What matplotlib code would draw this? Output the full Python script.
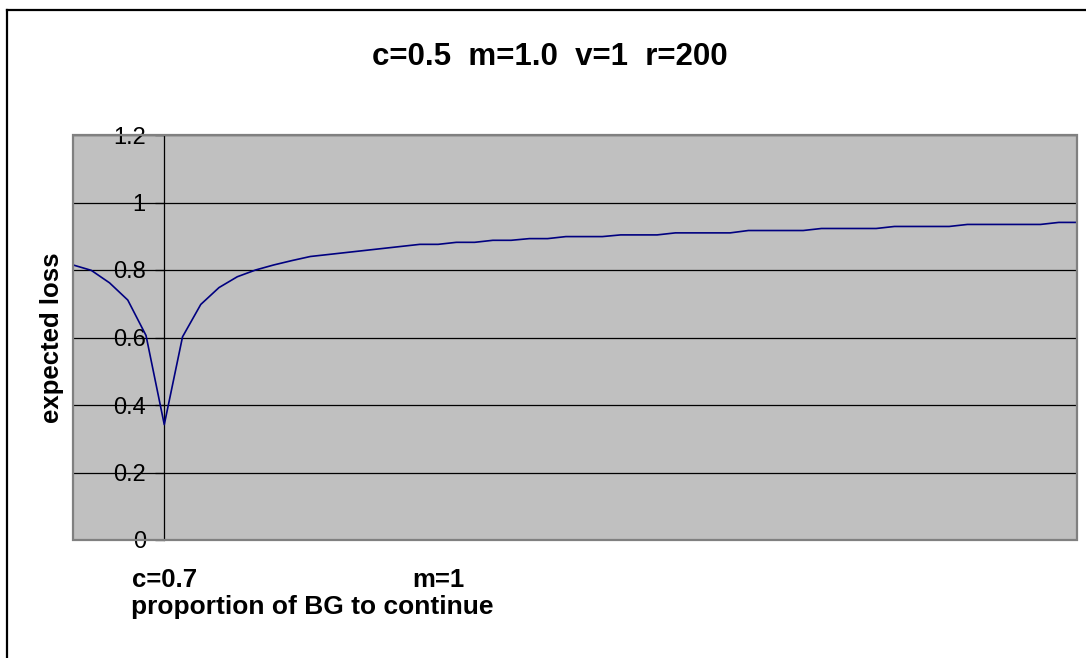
import matplotlib
matplotlib.use("Agg")
import matplotlib.pyplot as plt
from matplotlib.lines import Line2D
from matplotlib.patches import Rectangle
from matplotlib.transforms import blended_transform_factory

plt.rcParams['font.family'] = ['Liberation Sans', 'DejaVu Sans']

# expected loss for each category (56 points)
loss = [0.815, 0.799, 0.762, 0.711, 0.606, 0.342, 0.602, 0.698, 0.748, 0.780,
        0.800, 0.815, 0.828, 0.840, 0.846, 0.852, 0.858, 0.864, 0.870, 0.876,
        0.876, 0.882, 0.882, 0.888, 0.888, 0.893, 0.893, 0.899, 0.899, 0.899,
        0.904, 0.904, 0.904, 0.910, 0.910, 0.910, 0.910, 0.917, 0.917, 0.917,
        0.917, 0.923, 0.923, 0.923, 0.923, 0.929, 0.929, 0.929, 0.929, 0.935,
        0.935, 0.935, 0.935, 0.935, 0.941, 0.941]
categories = list(range(len(loss)))
yticks = [0, 0.2, 0.4, 0.6, 0.8, 1.0, 1.2]
ytick_labels = ['0', '0.2', '0.4', '0.6', '0.8', '1', '1.2']
cat_labels = ['c=0.7', 'm=1']
cat_label_pos = [5, 20]
axis_cross = 5

title = "c=0.5  m=1.0  v=1  r=200"
xlabel = "proportion of BG to continue"
ylabel = "expected loss"

W, H = 1086, 658
fig = plt.figure(figsize=(W / 100, H / 100), dpi=100)
ax = fig.add_axes([73 / W, 1 - 540 / H, 1004 / W, 405 / H])
ax.set_facecolor('#c0c0c0')

ax.plot(categories, loss, color='#000080', lw=1.2, clip_on=False, zorder=3)

# value axis crosses at category 6 (index 5)
for s in ['top', 'right', 'bottom']:
    ax.spines[s].set_visible(False)
ax.spines['left'].set_position(('data', axis_cross))
ax.spines['left'].set_color('black')
ax.spines['left'].set_linewidth(0.9)
ax.spines['left'].set_zorder(2.5)

ax.set_xlim(0, len(loss) - 1)
ax.set_ylim(0, 1.2)
ax.set_yticks(yticks)
ax.set_yticklabels(ytick_labels)
ax.set_xticks([])
ax.yaxis.grid(True, color='black', lw=0.9)
ax.set_axisbelow(True)
ax.tick_params(axis='y', direction='out', length=6.3, width=0.9, pad=7,
               color='black', labelsize=17)

# plot area border
ax.add_patch(Rectangle((0, 0), 1, 1, transform=ax.transAxes, fill=False,
                       edgecolor='#808080', lw=1.6, clip_on=False, zorder=4))

# category labels under the axis
tr = blended_transform_factory(ax.transData, fig.transFigure)
for lab, pos in zip(cat_labels, cat_label_pos):
    ax.text(pos, 1 - 587 / H, lab, transform=tr, ha='center', va='baseline',
            fontsize=18.5, fontweight='bold')

fig.text(550 / W, 1 - 65 / H, title, ha='center', va='baseline',
         fontsize=22.5, fontweight='bold')
fig.text(312 / W, 1 - 614 / H, xlabel, ha='center', va='baseline',
         fontsize=19, fontweight='bold')
fig.text(52 / W, 1 - 338 / H, ylabel, ha='center', va='center', rotation=90,
         fontsize=18.5, fontweight='bold')

# chart frame (top and left edges visible)
fig.add_artist(Line2D([6.5 / W, 1.0], [1 - 10 / H, 1 - 10 / H],
                      transform=fig.transFigure, color='black', lw=1.6))
fig.add_artist(Line2D([6.5 / W, 6.5 / W], [0, 1 - 10 / H],
                      transform=fig.transFigure, color='black', lw=1.6))

fig.savefig('out.png', dpi=100)
